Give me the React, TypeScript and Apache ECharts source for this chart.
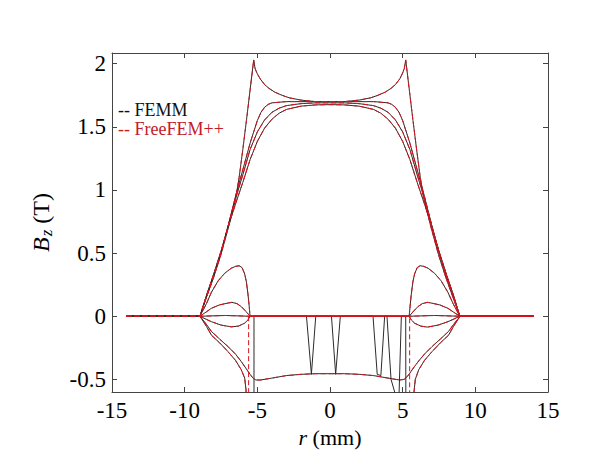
import React, { useEffect, useRef } from 'react';
import * as echarts from 'echarts';

const FONT = '"Liberation Serif", "Times New Roman", serif';

type Pt = [number, number];

// Bz (T) versus r (mm), one array per field line
const peakCurve: Pt[] = [[-14,0],[-8.95,0],[-8.5,0.15],[-8.0,0.31],[-7.5,0.49],[-7.0,0.7],[-6.5,0.93],[-6.25,1.1],[-6.0,1.32],[-5.75,1.55],[-5.5,1.79],[-5.25,2.03],[-5.15,1.96],[-5.0,1.92],[-4.8,1.88],[-4.5,1.835],[-4.2,1.805],[-3.8,1.775],[-3.3,1.75],[-2.8,1.73],[-2.0,1.712],[-1.0,1.70],[0,1.70],[1.0,1.70],[2.0,1.712],[2.8,1.73],[3.3,1.75],[3.8,1.775],[4.2,1.805],[4.5,1.835],[4.8,1.88],[4.97,1.92],[5.11,1.96],[5.21,2.03],[5.46,1.79],[5.71,1.55],[5.96,1.32],[6.21,1.1],[6.46,0.93],[6.96,0.7],[7.46,0.49],[7.96,0.31],[8.46,0.15],[8.93,0],[14,0]];
const upperCurve2: Pt[] = [[-14,0],[-8.95,0],[-8.5,0.155],[-8.0,0.32],[-7.5,0.5],[-7.0,0.72],[-6.5,0.95],[-6.0,1.16],[-5.5,1.37],[-5.25,1.46],[-5.0,1.55],[-4.75,1.615],[-4.5,1.655],[-4.25,1.678],[-4.0,1.69],[-3.0,1.70],[0,1.70],[3.0,1.70],[4.0,1.69],[4.25,1.678],[4.5,1.655],[4.75,1.615],[5.0,1.55],[5.25,1.46],[5.5,1.37],[6.0,1.16],[6.5,0.95],[7.0,0.72],[7.5,0.5],[8.0,0.32],[8.5,0.155],[8.93,0],[14,0]];
const upperCurve3: Pt[] = [[-14,0],[-8.95,0],[-8.5,0.16],[-8.0,0.33],[-7.5,0.51],[-7.0,0.72],[-6.5,0.93],[-6.0,1.12],[-5.5,1.32],[-5.0,1.46],[-4.5,1.555],[-4.0,1.615],[-3.5,1.648],[-3.0,1.668],[-2.0,1.684],[-1.0,1.69],[0,1.69],[1.0,1.69],[2.0,1.684],[3.0,1.668],[3.5,1.648],[4.0,1.615],[4.5,1.555],[5.0,1.46],[5.5,1.32],[6.0,1.12],[6.5,0.93],[7.0,0.72],[7.5,0.51],[8.0,0.33],[8.5,0.16],[8.93,0],[14,0]];
const upperCurve4: Pt[] = [[-14,0],[-8.95,0],[-8.5,0.165],[-8.0,0.335],[-7.5,0.515],[-7.0,0.71],[-6.5,0.89],[-6.0,1.06],[-5.5,1.24],[-5.0,1.385],[-4.5,1.49],[-4.0,1.56],[-3.5,1.608],[-3.0,1.638],[-2.0,1.664],[-1.0,1.674],[0,1.676],[1.0,1.674],[2.0,1.664],[3.0,1.638],[3.5,1.608],[4.0,1.56],[4.5,1.49],[5.0,1.385],[5.5,1.24],[6.0,1.06],[6.5,0.89],[7.0,0.71],[7.5,0.515],[8.0,0.335],[8.5,0.165],[8.93,0],[14,0]];
const bumpHigh: Pt[] = [[-14,0],[-8.95,0],[-8.5,0.1],[-8.16,0.19],[-7.7,0.28],[-7.25,0.34],[-6.8,0.38],[-6.5,0.395],[-6.25,0.40],[-6.05,0.385],[-5.87,0.335],[-5.75,0.27],[-5.64,0.17],[-5.56,0.08],[-5.5,0],[5.45,0],[5.51,0.08],[5.59,0.17],[5.7,0.27],[5.82,0.335],[6.0,0.385],[6.2,0.40],[6.45,0.395],[6.75,0.38],[7.2,0.34],[7.65,0.28],[8.11,0.19],[8.47,0.1],[8.93,0],[14,0]];
const bumpLow: Pt[] = [[-14,0],[-8.95,0],[-8.5,0.035],[-8.16,0.063],[-7.6,0.09],[-7.0,0.105],[-6.75,0.11],[-6.4,0.1],[-6.1,0.076],[-5.8,0.04],[-5.5,0],[5.45,0],[5.75,0.04],[6.05,0.076],[6.35,0.1],[6.7,0.11],[6.95,0.105],[7.55,0.09],[8.11,0.063],[8.47,0.035],[8.93,0],[14,0]];
const flatCurve: Pt[] = [[-14,0],[-8.95,0],[-7.2,0.006],[-5.5,0],[5.45,0],[7.2,0.006],[8.93,0],[14,0]];
const dipCurve: Pt[] = [[-14,0],[-8.95,0],[-8.5,-0.025],[-8.16,-0.043],[-7.5,-0.07],[-6.79,-0.084],[-6.3,-0.078],[-5.87,-0.055],[-5.65,-0.03],[-5.5,0],[5.45,0],[5.6,-0.03],[5.82,-0.055],[6.25,-0.078],[6.7,-0.086],[7.45,-0.07],[8.11,-0.043],[8.47,-0.025],[8.93,0],[14,0]];
const plateauCurve: Pt[] = [[-14,0],[-8.95,0],[-8.5,-0.065],[-8.16,-0.12],[-7.6,-0.18],[-7.02,-0.24],[-6.5,-0.3],[-6.1,-0.36],[-5.8,-0.41],[-5.5,-0.46],[-5.3,-0.49],[-5.1,-0.505],[-4.8,-0.505],[-4.4,-0.498],[-4.0,-0.49],[-3.0,-0.47],[-2.0,-0.46],[-1.0,-0.455],[0,-0.455],[1.0,-0.455],[2.0,-0.46],[3.0,-0.47],[4.0,-0.49],[4.4,-0.498],[4.8,-0.505],[5.1,-0.5],[5.3,-0.48],[5.5,-0.45],[5.8,-0.40],[6.1,-0.355],[6.5,-0.3],[7.02,-0.24],[7.6,-0.18],[8.16,-0.12],[8.5,-0.065],[8.95,0],[14,0]];
const plungeFreeFem: Pt[] = [[-14,0],[-8.95,0],[-8.5,-0.08],[-8.16,-0.15],[-7.6,-0.21],[-7.02,-0.28],[-6.5,-0.35],[-6.1,-0.425],[-5.87,-0.49],[-5.78,-0.58],[-5.72,-0.9],[-5.7,-1.5],[-5.6,-1.5],[-5.6,0],[5.48,0],[5.48,-1.5],[5.7,-1.5],[5.73,-0.9],[5.78,-0.6],[5.87,-0.5],[6.1,-0.425],[6.5,-0.35],[7.02,-0.28],[7.6,-0.21],[8.16,-0.15],[8.5,-0.08],[8.95,0],[14,0]];
const plungeFemm: Pt[] = [[-14,0],[-8.95,0],[-8.5,-0.08],[-8.16,-0.15],[-7.6,-0.21],[-7.02,-0.28],[-6.5,-0.35],[-6.1,-0.425],[-5.87,-0.49],[-5.78,-0.58],[-5.72,-0.9],[-5.7,-1.5],[-5.23,-1.5],[-5.23,0],[-1.62,0],[-1.28,-0.46],[-0.98,0],[0.1,0],[0.39,-0.46],[0.71,0],[2.96,0],[3.25,-0.46],[3.5,-0.47],[3.76,0],[3.92,0],[4.2,-0.5],[4.5,-0.62],[4.75,-0.62],[4.91,0],[5.21,0],[5.23,-1.5],[5.7,-1.5],[5.73,-0.9],[5.78,-0.6],[5.87,-0.5],[6.1,-0.425],[6.5,-0.35],[7.02,-0.28],[7.6,-0.21],[8.16,-0.15],[8.5,-0.08],[8.95,0],[14,0]];

const sharedCurves: Pt[][] = [peakCurve, upperCurve2, upperCurve3, upperCurve4, bumpHigh, bumpLow, flatCurve, dipCurve, plateauCurve];
const femmCurves: Pt[][] = [...sharedCurves, plungeFemm];
const freeFemCurves: Pt[][] = [...sharedCurves, plungeFreeFem];

const legendLabels = ['-- FEMM', '-- FreeFEM++'];
const xRange = [-15, 15];
const yRange = [-0.6, 2.085];

const BLACK = '#2b2b2b';
const RED = '#d8141c';
const AXIS = '#444';

export default function App() {
  const ref = useRef<HTMLDivElement>(null);
  useEffect(() => {
    if (!ref.current) return;
    const chart = echarts.init(ref.current, null, { renderer: 'svg' });
    const series: any[] = [];
    femmCurves.forEach((d) =>
      series.push({
        type: 'line', data: d, symbol: 'none', showSymbol: false, silent: true, z: 2,
        lineStyle: { color: BLACK, width: 1 },
      })
    );
    freeFemCurves.forEach((d) =>
      series.push({
        type: 'line', data: d, symbol: 'none', showSymbol: false, silent: true, z: 3,
        lineStyle: { color: RED, width: 1, type: [5, 3] },
      })
    );
    const axisCommon = {
      type: 'value' as const,
      splitLine: { show: false },
      axisLine: { onZero: false, lineStyle: { color: AXIS, width: 1 } },
      axisTick: { inside: true, length: 5, lineStyle: { color: AXIS, width: 1 } },
    };
    const xNameStyle = {
      fontFamily: FONT, fontSize: 22, color: '#000',
      rich: {
        i: { fontFamily: FONT, fontSize: 22, fontStyle: 'italic', color: '#000' },
        n: { fontFamily: FONT, fontSize: 22, color: '#000' },
      },
    };
    const yNameStyle = {
      fontFamily: FONT, fontSize: 24, color: '#000',
      rich: {
        i: { fontFamily: FONT, fontSize: 24, fontStyle: 'italic', color: '#000' },
        s: { fontFamily: FONT, fontSize: 17, fontStyle: 'italic', color: '#000', padding: [11, 0, 0, 1] },
        n: { fontFamily: FONT, fontSize: 24, color: '#000' },
      },
    };
    const yFormatter = (v: number) =>
      Math.abs(v * 2 - Math.round(v * 2)) < 1e-6 ? String(Math.round(v * 2) / 2) : '';
    chart.setOption({
      animation: false,
      backgroundColor: '#fff',
      grid: { left: 112, right: 42, top: 53, bottom: 80, containLabel: false },
      xAxis: [
        {
          ...axisCommon, position: 'bottom', min: xRange[0], max: xRange[1], interval: 5,
          axisLabel: { color: '#000', fontFamily: FONT, fontSize: 23, margin: 7 },
          name: '{i|r}{n| (mm)}', nameLocation: 'middle', nameGap: 30, nameTextStyle: xNameStyle,
        },
        {
          ...axisCommon, position: 'top', min: xRange[0], max: xRange[1], interval: 5,
          axisLabel: { show: false },
        },
      ],
      yAxis: [
        {
          ...axisCommon, position: 'left', min: yRange[0], max: yRange[1], splitNumber: 5,
          axisLabel: { color: '#000', fontFamily: FONT, fontSize: 23, margin: 6, showMinLabel: false, showMaxLabel: false, formatter: yFormatter },
          name: '{i|B}{s|z}{n| (T)}', nameLocation: 'middle', nameGap: 57, nameTextStyle: yNameStyle,
        },
        {
          ...axisCommon, position: 'right', min: yRange[0], max: yRange[1], splitNumber: 5,
          axisLabel: { show: false },
        },
      ],
      series,
      graphic: [
        {
          type: 'text', x: 118, y: 110, silent: true,
          style: { text: legendLabels[0], fill: '#111', font: `18px ${FONT}`, align: 'left', verticalAlign: 'middle' },
        },
        {
          type: 'text', x: 118, y: 129, silent: true,
          style: { text: legendLabels[1], fill: '#c0202a', font: `18px ${FONT}`, align: 'left', verticalAlign: 'middle' },
        },
      ],
    });
    return () => chart.dispose();
  }, []);
  return <div ref={ref} style={{ position: 'fixed', left: 0, top: 0, width: 590, height: 472, background: '#fff' }} />;
}
